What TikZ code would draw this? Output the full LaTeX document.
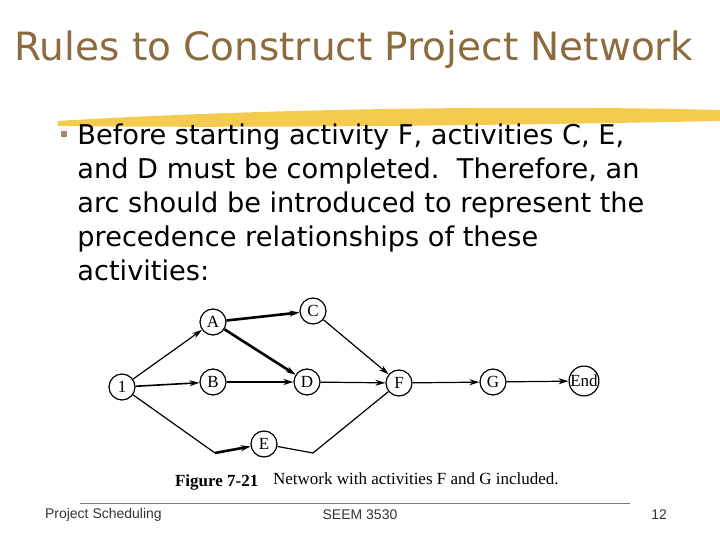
\documentclass[tikz,border=0pt]{standalone}
\usepackage{fontspec}
\setmainfont{Liberation Serif}
\setsansfont{Liberation Sans}
\newfontfamily\slidefont{DejaVu Sans}
\usetikzlibrary{arrows.meta}
\definecolor{titleBrown}{HTML}{8C6B3E}
\definecolor{brushYellow}{HTML}{F2C230}
\definecolor{footGray}{HTML}{7A7A7A}

\begin{document}
\begin{tikzpicture}[
        x=0.5pt, y=-0.5pt,
        act/.style={draw, circle, semithick, minimum size=13pt, inner sep=0pt, font=\fontsize{8.5}{9}\selectfont},
        link/.style={-{Stealth[length=5pt,width=3pt]}, semithick}, % thin arcs
        heavy/.style={link, line width=1.3pt}, % bold arcs
        foot/.style={font=\sffamily\fontsize{7}{8}\selectfont, text=black!80}
    ]
    \useasboundingbox (0,0) rectangle (720,540);

    % title and brush stroke
    \node[font=\slidefont\fontsize{19.5}{24}\selectfont, text=titleBrown] (title) at (354,50) {Rules to Construct Project Network};
    \fill[brushYellow, opacity=0.85] (58,121) .. controls (220,111) and (480,104) .. (720,110)
        -- (720,121) .. controls (480,126) and (220,128) .. (58,126) -- cycle;

    % bullet text
    \fill[titleBrown!80] (61,131) rectangle (67,137);
    \node[anchor=north west, align=left, inner sep=0pt, font=\slidefont\fontsize{13.6}{17}\selectfont] (body) at (77,123)
        {Before starting activity F, activities C, E,\\
         and D must be completed.\ \ Therefore, an\\
         arc should be introduced to represent the\\
         precedence relationships of these\\
         activities:};

    % network
    \node[act] (I) at (122,387) {1};
    \node[act] (A) at (213,322) {A};
    \node[act] (B) at (213,382) {B};
    \node[act] (C) at (313,311) {C};
    \node[act] (D) at (307,382) {D};
    \node[act] (E) at (264,444) {E};
    \node[act] (F) at (399,383) {F};
    \node[act] (G) at (493,382) {G};
    \node[act] (End) at (584,381) {End};

    \coordinate (lowL) at (215,453);
    \coordinate (lowR) at (313,453);

    \draw[link] (I) -- (A);
    \draw[link, thick] (I) -- (B);
    \draw[heavy] (A) -- (C);
    \draw[heavy] (A) -- (D);
    \draw[heavy] (B) -- (D);
    \draw[link] (C) -- (F);
    \draw[link] (D) -- (F);
    \draw[semithick] (I) -- (lowL);
    \draw[heavy] (lowL) -- (E);
    \draw[semithick] (E) -- (lowR) -- (F);
    \draw[link] (F) -- (G);
    \draw[link] (G) -- (End);

    % caption
    \node[anchor=west, font=\bfseries\fontsize{8.5}{10}\selectfont] (figno) at (168,482) {Figure 7-21};
    \node[anchor=west, font=\fontsize{8.5}{10}\selectfont] (caption) at (266,479) {Network with activities F and G included.};

    % footer
    \draw[footGray, thin] (80,503) -- (630,503);
    \node[foot, anchor=west] (left) at (38,515) {Project Scheduling};
    \node[foot] (mid) at (360,515) {SEEM 3530};
    \node[foot, anchor=east] (page) at (674,515) {12};
\end{tikzpicture}
\end{document}
